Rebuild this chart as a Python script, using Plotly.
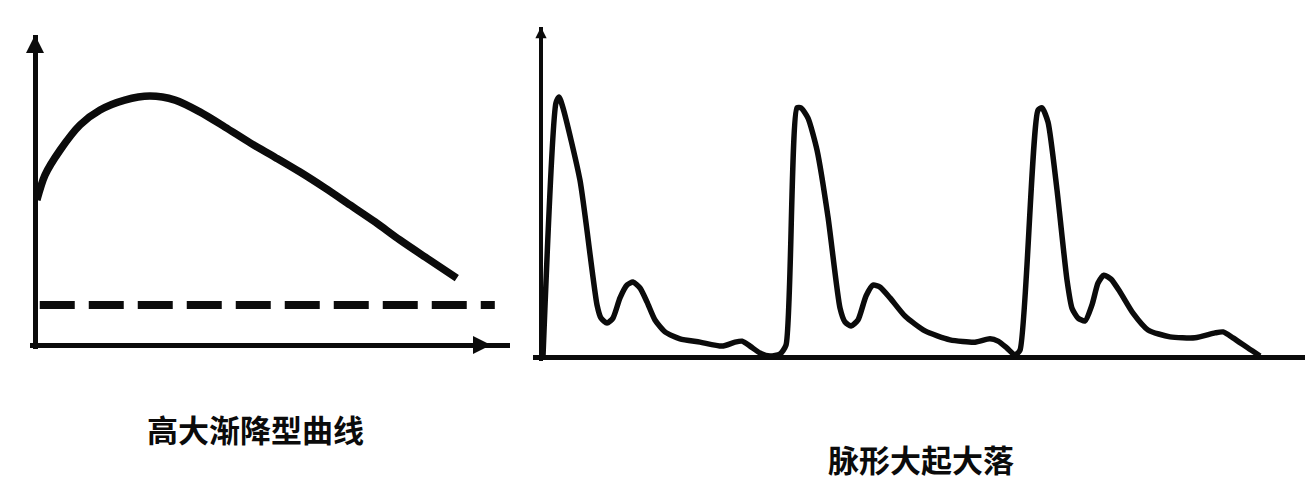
import plotly.graph_objects as go

# ---------------- data ----------------
# Left panel: 高大渐降型曲线 (arbitrary units, time 0-100, amplitude 0-100)
left_t = [0.4, 2.1, 5.3, 9.5, 13.7, 18.9, 24.2, 29.5, 34.7, 40.0, 45.3, 50.5, 55.8, 61.1, 66.3, 71.6, 76.8,
          82.1, 88.8]
left_v = [46.8, 54.8, 62.9, 71.0, 75.8, 79.0, 80.3, 79.0, 75.2, 70.3, 65.2, 60.6, 55.8, 50.6, 45.2, 39.7, 33.9,
          28.4, 21.6]
base_t = [1.0, 96.8]
base_v = [12.9, 12.9]

# Right panel: 脉形大起大落 (three pulses)
right_t = [0.26, 1.96, 2.36, 2.88, 5.10, 7.33, 7.85, 8.64, 9.42, 10.34, 11.26, 12.04, 12.96, 13.87, 14.92,
           16.23, 18.19, 20.81, 23.69, 25.39, 26.31, 27.36, 28.66, 29.97, 31.28, 32.07,
           33.51, 34.03, 34.95, 36.13, 37.57, 39.14, 39.79, 40.58, 41.49, 42.54, 43.46, 44.37, 45.68, 47.64,
           50.26, 53.53, 56.81, 58.77, 59.82, 60.99, 62.04,
           62.70, 65.05, 65.58, 66.36, 67.54, 68.85, 69.50, 70.29, 71.20, 72.12, 72.91, 73.69, 74.61, 75.79,
           77.49, 79.45, 82.33, 85.60, 88.22, 89.27, 90.58, 92.54, 94.11]
right_v = [0.0, 77.0, 78.8, 75.5, 53.6, 15.8, 11.8, 10.3, 11.8, 17.9, 21.8, 22.7, 20.9, 16.7, 11.2,
           7.6, 5.5, 4.5, 3.3, 4.5, 4.8, 3.3, 1.2, 0.3, 0.9, 3.6,
           75.5, 75.5, 72.4, 62.7, 42.4, 14.8, 10.6, 9.4, 11.2, 18.5, 21.8, 21.2, 17.9, 12.4,
           7.9, 5.2, 4.5, 5.5, 4.8, 2.7, 0.6,
           2.1, 74.8, 75.5, 71.2, 50.6, 23.3, 14.8, 11.8, 10.9, 15.8, 22.4, 24.8, 23.6, 19.7,
           13.3, 8.2, 6.1, 5.8, 7.3, 7.6, 5.8, 2.7, 0.3]

left_title = "高大渐降型曲线"
right_title = "脉形大起大落"

# ---------------- layout geometry ----------------
W, H = 1316, 492
INK = "#0b0b0b"
FONT = "Noto Sans CJK SC"


def dom_x(origin_px, px_per_unit, rng):
    return [(origin_px + rng[0] * px_per_unit) / W, (origin_px + rng[1] * px_per_unit) / W]


def dom_y(origin_py, px_per_unit, rng):
    return [1 - (origin_py - rng[0] * px_per_unit) / H, 1 - (origin_py - rng[1] * px_per_unit) / H]


rx = [-1, 100]
ry = [-1.2, 100]

fig = go.Figure()

fig.add_trace(go.Scatter(x=left_t, y=left_v, mode="lines", xaxis="x", yaxis="y",
                         line=dict(color=INK, width=7.5, shape="spline", smoothing=0.8), showlegend=False))
fig.add_trace(go.Scatter(x=base_t, y=base_v, mode="lines", xaxis="x", yaxis="y",
                         line=dict(color=INK, width=8, dash="35px,14px"), showlegend=False))
fig.add_trace(go.Scatter(x=right_t, y=right_v, mode="lines", xaxis="x2", yaxis="y2",
                         line=dict(color=INK, width=5.5, shape="spline", smoothing=0.6), showlegend=False))

ax_common = dict(showgrid=False, showticklabels=False, ticks="", showline=False,
                 zeroline=True, zerolinecolor=INK, fixedrange=True)

fig.update_layout(
    width=W, height=H,
    margin=dict(l=0, r=0, t=0, b=0),
    paper_bgcolor="white", plot_bgcolor="white",
    xaxis=dict(domain=dom_x(35, 4.75, rx), range=rx, anchor="y", zerolinewidth=5, **ax_common),
    yaxis=dict(domain=dom_y(345, 3.1, ry), range=ry, anchor="x", zerolinewidth=5, **ax_common),
    xaxis2=dict(domain=dom_x(541, 7.64, rx), range=rx, anchor="y2", zerolinewidth=4, **ax_common),
    yaxis2=dict(domain=dom_y(357, 3.3, ry), range=ry, anchor="x2", zerolinewidth=4.5, **ax_common),
)

# axis arrowheads
fig.add_annotation(x=0, y=100, xref="x", yref="y", ax=0, ay=22, text="", showarrow=True,
                   arrowhead=2, arrowsize=1.2, arrowwidth=3, arrowcolor=INK)
fig.add_annotation(x=96, y=0, xref="x", yref="y", ax=-22, ay=0, text="", showarrow=True,
                   arrowhead=2, arrowsize=1.2, arrowwidth=3, arrowcolor=INK)
fig.add_annotation(x=0, y=100, xref="x2", yref="y2", ax=0, ay=18, text="", showarrow=True,
                   arrowhead=2, arrowsize=0.9, arrowwidth=2.5, arrowcolor=INK)

# captions
fig.add_annotation(x=255 / W, y=1 - 428 / H, xref="paper", yref="paper", text=left_title, showarrow=False,
                   font=dict(family=FONT, size=31, color=INK, weight="bold"), xanchor="center", yanchor="middle")
fig.add_annotation(x=921 / W, y=1 - 458 / H, xref="paper", yref="paper", text=right_title, showarrow=False,
                   font=dict(family=FONT, size=31, color=INK, weight="bold"), xanchor="center", yanchor="middle")

fig.write_html("out.html")
